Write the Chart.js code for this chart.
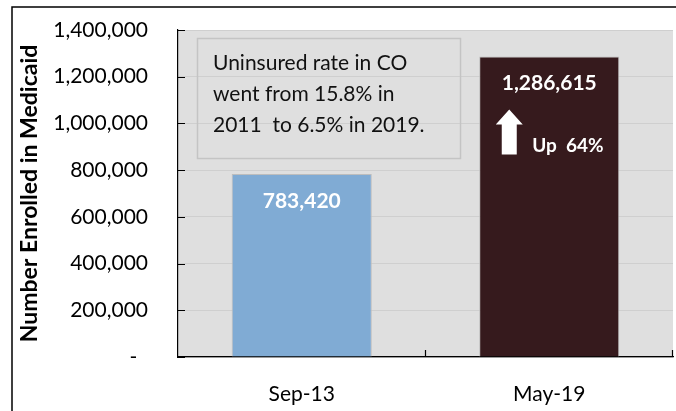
<!DOCTYPE html>
<html>
<head>
<meta charset="utf-8">
<script src="https://cdn.jsdelivr.net/npm/chart.js@4/dist/chart.umd.min.js"></script>
<style>
  html, body { margin: 0; padding: 0; background: #fff; }
  #wrap { width: 676px; height: 411px; position: relative; }
</style>
</head>
<body>
<div id="wrap"><canvas id="chart"></canvas></div>
<script>
var categories = ['Sep-13', 'May-19'];
var enrolled = [783420, 1286615];
var barColors = ['#80abd4', '#361a1d'];
var noteLines = ['Uninsured rate in CO', 'went from 15.8% in', '2011  to 6.5% in 2019.'];

Chart.defaults.font.family = 'Lato, "Open Sans", sans-serif';
Chart.defaults.color = '#000';

var fmt = function(v) { return v.toLocaleString('en-US'); };

// frame, grey plot area and the note box
var backdrop = {
  id: 'backdrop',
  beforeDraw: function(c) {
    var ctx = c.ctx, a = c.chartArea;
    ctx.save();
    ctx.fillStyle = '#dfdfdf';
    ctx.fillRect(a.left, a.top, a.right - a.left, a.bottom - a.top);
    ctx.strokeStyle = '#000';
    ctx.lineWidth = 1.5;
    ctx.beginPath();
    ctx.moveTo(12, 420);
    ctx.lineTo(12, 7);
    ctx.lineTo(700, 7);
    ctx.stroke();
    ctx.restore();
  },
  beforeDatasetsDraw: function(c) {
    var ctx = c.ctx;
    ctx.save();
    ctx.strokeStyle = '#c4c4c4';
    ctx.lineWidth = 1.5;
    ctx.strokeRect(197.5, 38.5, 263, 120);
    ctx.fillStyle = '#111';
    ctx.font = '21px Lato';
    ctx.textBaseline = 'alphabetic';
    ctx.textAlign = 'left';
    noteLines.forEach(function(t, i) {
      ctx.fillText(t, 213, 70 + i * 31);
    });
    ctx.restore();
  }
};

// value labels, inward tick marks and the growth arrow
var marks = {
  id: 'marks',
  afterDatasetsDraw: function(c) {
    var ctx = c.ctx, a = c.chartArea;
    var x = c.scales.x, y = c.scales.y;
    var bars = c.getDatasetMeta(0).data;
    ctx.save();
    ctx.fillStyle = '#fff';
    ctx.font = 'bold 21px Lato';
    ctx.textAlign = 'center';
    ctx.textBaseline = 'middle';
    bars.forEach(function(b, i) {
      ctx.fillText(fmt(enrolled[i]), b.x, b.y + 27);
    });

    var b = bars[1];
    var ax = b.x - 40, top = b.y + 53;
    ctx.beginPath();
    ctx.moveTo(ax, top);
    ctx.lineTo(ax + 13.5, top + 15);
    ctx.lineTo(ax + 7.5, top + 15);
    ctx.lineTo(ax + 7.5, top + 45);
    ctx.lineTo(ax - 7.5, top + 45);
    ctx.lineTo(ax - 7.5, top + 15);
    ctx.lineTo(ax - 13.5, top + 15);
    ctx.closePath();
    ctx.fill();
    var pct = Math.round((enrolled[1] - enrolled[0]) / enrolled[0] * 100);
    ctx.font = 'bold 19px Lato';
    ctx.textAlign = 'left';
    ctx.fillText('Up  ' + pct + '%', b.x - 17, b.y + 89);

    ctx.strokeStyle = '#000';
    ctx.lineWidth = 1.2;
    ctx.beginPath();
    y.ticks.forEach(function(t) {
      var py = Math.round(y.getPixelForValue(t.value)) + 0.5;
      ctx.moveTo(a.left, py);
      ctx.lineTo(a.left + 7, py);
    });
    var half = (x.getPixelForValue(1) - x.getPixelForValue(0)) / 2;
    categories.forEach(function(cat, i) {
      var px = Math.round(x.getPixelForValue(i) + half) - 0.5;
      ctx.moveTo(px, a.bottom);
      ctx.lineTo(px, a.bottom - 7);
    });
    ctx.stroke();
    ctx.restore();
  }
};

new Chart(document.getElementById('chart'), {
  type: 'bar',
  data: {
    labels: categories,
    datasets: [{
      label: 'Enrolled',
      data: enrolled,
      backgroundColor: barColors,
      borderColor: '#bdbdbd',
      borderWidth: 1,
      barPercentage: 0.566,
      categoryPercentage: 1
    }]
  },
  options: {
    responsive: true,
    maintainAspectRatio: false,
    animation: false,
    layout: { padding: { top: 30, right: 3, left: 0, bottom: 0 } },
    plugins: { legend: { display: false }, tooltip: { enabled: false } },
    scales: {
      x: {
        grid: { display: false },
        border: { display: true, color: '#000', width: 1.2 },
        ticks: { font: { size: 21 }, padding: 17 },
        afterFit: function(s) { s.height = 54; }
      },
      y: {
        min: 0,
        max: 1400000,
        grid: { color: '#cfcfcf', drawTicks: false },
        border: { display: true, color: '#000', width: 1.2 },
        ticks: {
          stepSize: 200000,
          padding: 30,
          font: { size: 21 },
          callback: function(v) { return v === 0 ? '-  ' : fmt(v); }
        },
        title: {
          display: true,
          text: 'Number Enrolled in Medicaid',
          font: { size: 23, weight: 'bold' },
          padding: { top: 16, bottom: 0 }
        },
        afterFit: function(s) {
          s.width = 178;
          // tick padding would otherwise push the plot top down
          s.paddingTop = 0;
          s.paddingBottom = 0;
        }
      }
    }
  },
  plugins: [backdrop, marks]
});
</script>
</body>
</html>
